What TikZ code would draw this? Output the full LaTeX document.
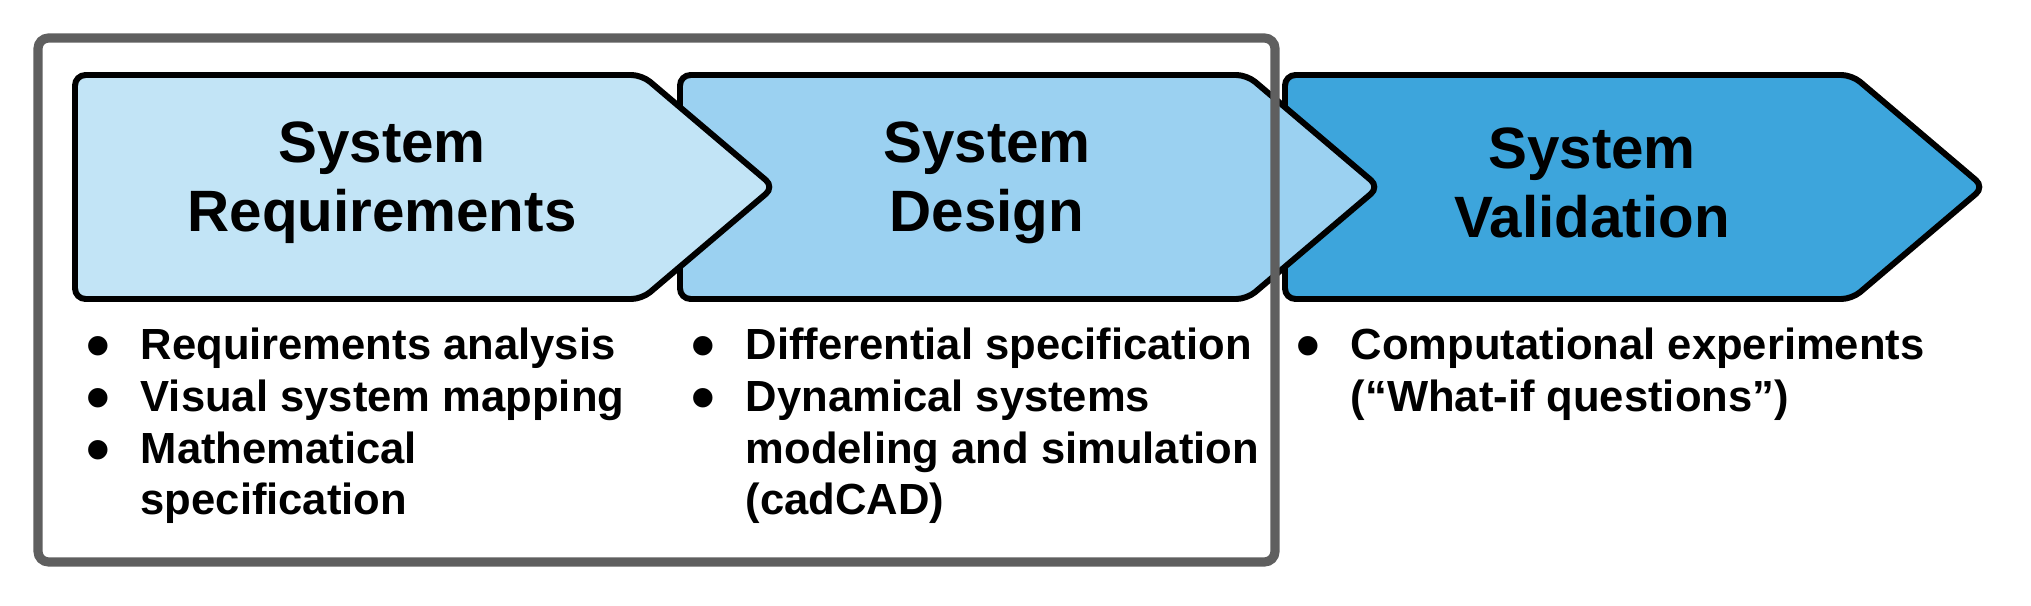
\documentclass[tikz,border=0pt]{standalone}
\usepackage{fontspec}
\setmainfont{Liberation Sans}

\definecolor{stageA}{HTML}{C2E4F6}
\definecolor{stageB}{HTML}{9BD1F1}
\definecolor{stageC}{HTML}{3DA5DC}
\definecolor{framegray}{HTML}{5F5F5F}

\newcommand{\bul}{\makebox[0.84cm]{\smash{\raisebox{-0.2em}{\scalebox{1.55}{•}}}}}

\begin{document}
\begin{tikzpicture}[
        stage/.style={draw=black, line width=1.7pt, rounded corners=3pt},
        title/.style={align=center, font=\fontsize{16.6}{19.6}\selectfont\bfseries},
        list/.style={anchor=base west, inner sep=0pt, font=\fontsize{12.4}{14.7}\selectfont\bfseries}
    ]
        \useasboundingbox (0,0) rectangle (20.31,6.06);

        % validace (vzadu)
        \draw[stage, fill=stageC] (12.85,5.31) -- (18.52,5.31) -- (19.84,4.19)
        -- (18.52,3.07) -- (12.85,3.07) -- cycle;
        \node[title] (val) at (15.92,4.23) {System\\Validation};

        % navrh
        \draw[stage, fill=stageB] (6.80,5.31) -- (12.47,5.31) -- (13.79,4.19)
        -- (12.47,3.07) -- (6.80,3.07) -- cycle;
        \node[title] (des) at (9.87,4.23) {System\\Design};

        % pozadavky (vpredu)
        \draw[stage, fill=stageA] (0.75,5.31) -- (6.42,5.31) -- (7.74,4.19)
        -- (6.42,3.07) -- (0.75,3.07) -- cycle;
        \node[title] (req) at (3.82,4.23) {System\\Requirements};

        % seznamy
        \node[list] (reqlist) at (0.56,2.46) {\begin{tabular}[t]{@{}c@{}l@{}}
            \bul & Requirements analysis\\
            \bul & Visual system mapping\\
            \bul & Mathematical\\
                 & specification
        \end{tabular}};

        \node[list] (deslist) at (6.61,2.46) {\begin{tabular}[t]{@{}c@{}l@{}}
            \bul & Differential specification\\
            \bul & Dynamical systems\\
                 & modeling and simulation\\
                 & (cadCAD)
        \end{tabular}};

        \node[list] (vallist) at (12.66,2.46) {\begin{tabular}[t]{@{}c@{}l@{}}
            \bul & Computational experiments\\
                 & (“What-if questions”)
        \end{tabular}};

        % ramecek
        \draw[draw=framegray, line width=2.6pt, rounded corners=3pt]
        (0.38,5.68) rectangle (12.75,0.44);

    \end{tikzpicture}
\end{document}
